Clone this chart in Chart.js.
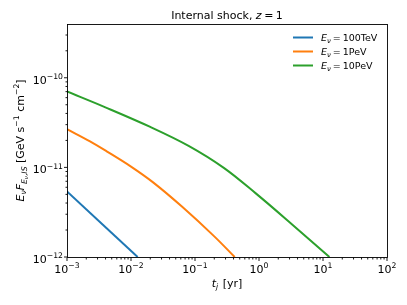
<!DOCTYPE html>
<html>
<head>
<meta charset="utf-8">
<script src="https://cdn.jsdelivr.net/npm/chart.js@4.4.1/dist/chart.umd.min.js"></script>
<style>
  html, body { margin: 0; padding: 0; background: #fff; }
</style>
</head>
<body>
<canvas id="chart" width="407" height="305"></canvas>
<script>
// neutrino energies and line colours (matplotlib tab10)
const energies = ['100TeV', '1PeV', '10PeV'];
const colors = ['#1f77b4', '#ff7f0e', '#2ca02c'];

// t_j [yr] and E F_E [GeV s^-1 cm^-2]
const tBlue = [0.001, 0.0127];
const fBlue = [5.4e-12, 1e-12];
const tOrange = [0.001, 0.00229, 0.00417, 0.01, 0.0224, 0.0631, 0.2, 0.417];
const fOrange = [2.67e-11, 1.95e-11, 1.51e-11, 1.02e-11, 6.76e-12, 3.63e-12, 1.70e-12, 1e-12];
const tGreen = [0.001, 0.00398, 0.02, 0.0794, 0.282, 0.891, 3.16, 12.6];
const fGreen = [7.03e-11, 4.68e-11, 2.83e-11, 1.74e-11, 9.89e-12, 5.13e-12, 2.37e-12, 1e-12];

// tick values with their labels (base, exponent)
const xTicks = [1e-3, 1e-2, 1e-1, 1e0, 1e1, 1e2];
const xExps = ['−3', '−2', '−1', '0', '1', '2'];
const yTicks = [1e-12, 1e-11, 1e-10];
const yExps = ['−12', '−11', '−10'];

const FONT = 'DejaVu Sans';
const n = s => `${s}px "${FONT}"`;
const it = s => `italic ${s}px "${FONT}"`;

const pairs = (ts, fs) => ts.map((t, i) => ({ x: t, y: fs[i] }));

// draw a run of text pieces (italic / sub / superscript) one after another
function drawRich(ctx, parts, x, y, align) {
  let w = 0;
  parts.forEach(p => {
    ctx.font = p.f;
    p.w = ctx.measureText(p.t).width + (p.gap || 0);
    w += p.w;
  });
  let cx = x;
  if (align === 'center') cx = x - w / 2;
  if (align === 'right') cx = x - w;
  parts.forEach(p => {
    ctx.font = p.f;
    ctx.fillText(p.t, cx, y + (p.dy || 0));
    cx += p.w;
  });
}

const tenTo = e => [
  { t: '10', f: n(11) },
  { t: e, f: n(7.7), dy: -4.6 }
];

const decor = {
  id: 'decor',
  afterDraw(chart) {
    const { ctx, chartArea: a, scales: { x, y } } = chart;
    ctx.save();
    ctx.strokeStyle = '#000';
    ctx.fillStyle = '#000';
    ctx.lineWidth = 0.9;

    // spines
    ctx.strokeRect(Math.round(a.left) + 0.5, Math.round(a.top) + 0.5,
      Math.round(a.right - a.left), Math.round(a.bottom - a.top));

    // major + minor ticks, outward
    const bot = Math.round(a.bottom) + 0.5;
    const lft = Math.round(a.left) + 0.5;
    ctx.beginPath();
    for (let d = -3; d <= 2; d++) {
      for (let k = 1; k <= 9; k++) {
        const v = k * Math.pow(10, d);
        if (v > 100.0001) break;
        const px = x.getPixelForValue(v);
        ctx.moveTo(px, bot);
        ctx.lineTo(px, bot + (k === 1 ? 3.5 : 2));
      }
    }
    for (let d = -12; d <= -10; d++) {
      for (let k = 1; k <= 9; k++) {
        const v = k * Math.pow(10, d);
        if (v > y.max) break;
        const py = y.getPixelForValue(v);
        ctx.moveTo(lft, py);
        ctx.lineTo(lft - (k === 1 ? 3.5 : 2), py);
      }
    }
    ctx.stroke();

    ctx.textBaseline = 'alphabetic';

    // tick labels
    xTicks.forEach((v, i) => drawRich(ctx, tenTo(xExps[i]), x.getPixelForValue(v), 272.5, 'center'));
    yTicks.forEach((v, i) => drawRich(ctx, tenTo(yExps[i]), 63, y.getPixelForValue(v) + 6, 'right'));

    // title
    const cx = (a.left + a.right) / 2;
    drawRich(ctx, [
      { t: 'Internal shock, ', f: n(11) },
      { t: 'z', f: it(11), gap: 2.5 },
      { t: '=', f: n(11), gap: 2.5 },
      { t: '1', f: n(11) }
    ], cx, 18.5, 'center');

    // x label
    drawRich(ctx, [
      { t: 't', f: it(11) },
      { t: 'j', f: it(7.7), dy: 2.5, gap: 1 },
      { t: ' [yr]', f: n(11) }
    ], cx, 286.5, 'center');

    // y label, rotated
    ctx.save();
    ctx.translate(24, (a.top + a.bottom) / 2);
    ctx.rotate(-Math.PI / 2);
    drawRich(ctx, [
      { t: 'E', f: it(11) },
      { t: 'ν', f: it(7.7), dy: 2.2 },
      { t: 'F', f: it(11) },
      { t: 'E', f: it(7.7), dy: 2.5 },
      { t: 'ν', f: it(5.5), dy: 4 },
      { t: ',', f: n(7.7), dy: 2.5 },
      { t: 'IS', f: it(7.7), dy: 2.5 },
      { t: ' [GeV s', f: n(11) },
      { t: '−1', f: n(7.7), dy: -4.6 },
      { t: ' cm', f: n(11) },
      { t: '−2', f: n(7.7), dy: -4.6 },
      { t: ']', f: n(11) }
    ], 0, 0, 'center');
    ctx.restore();

    // legend
    energies.forEach((e, i) => {
      const ly = 37.5 + 14 * i;
      ctx.strokeStyle = colors[i];
      ctx.lineWidth = 2;
      ctx.beginPath();
      ctx.moveTo(293, ly);
      ctx.lineTo(313, ly);
      ctx.stroke();
      drawRich(ctx, [
        { t: 'E', f: it(9.5) },
        { t: 'ν', f: it(6.7), dy: 2, gap: 2 },
        { t: '=', f: n(9.5), gap: 2 },
        { t: e, f: n(9.5) }
      ], 321, ly + 3.5, 'left');
    });
    ctx.restore();
  }
};

const series = [pairs(tBlue, fBlue), pairs(tOrange, fOrange), pairs(tGreen, fGreen)];

Chart.defaults.color = '#000';
Chart.defaults.font.family = FONT;

new Chart(document.getElementById('chart'), {
  type: 'scatter',
  data: {
    datasets: series.map((pts, i) => ({
      label: 'E_ν = ' + energies[i],
      data: pts,
      showLine: true,
      borderColor: colors[i],
      backgroundColor: colors[i],
      borderWidth: 2,
      pointRadius: 0,
      tension: 0.35
    }))
  },
  options: {
    responsive: false,
    animation: false,
    layout: { padding: { left: 0, top: 24, right: 20, bottom: 0 } },
    plugins: { legend: { display: false }, title: { display: false }, tooltip: { enabled: false } },
    scales: {
      x: {
        type: 'logarithmic',
        min: 1e-3,
        max: 1e2,
        grid: { display: false },
        border: { display: false },
        ticks: { display: false },
        afterFit: s => { s.height = 48; }
      },
      y: {
        type: 'logarithmic',
        min: 1e-12,
        max: Math.pow(10, -9.4),
        grid: { display: false },
        border: { display: false },
        ticks: { display: false },
        afterFit: s => { s.width = 67; }
      }
    }
  },
  plugins: [decor]
});
</script>
</body>
</html>
